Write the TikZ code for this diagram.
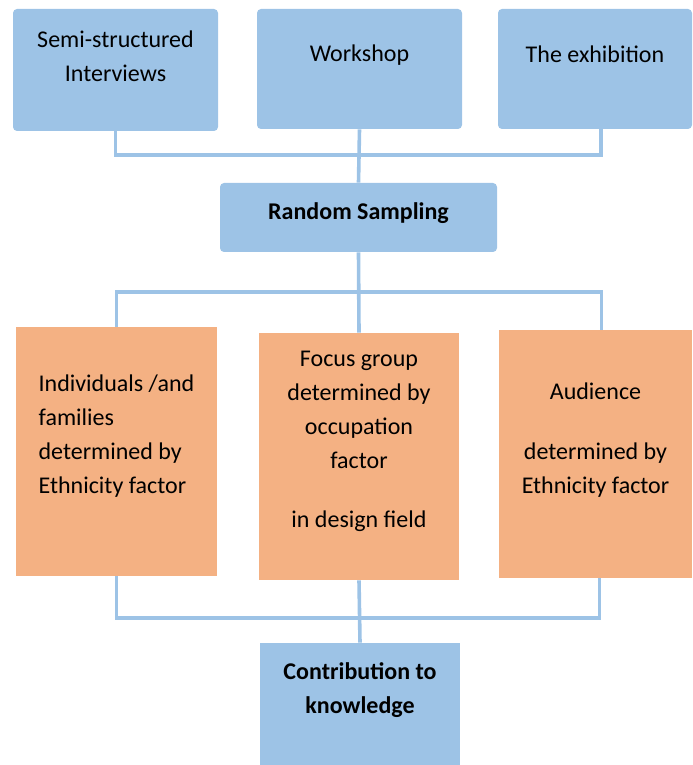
\documentclass[tikz,border=0pt]{standalone}
\usepackage{fontspec}
\setmainfont{Carlito}
\usetikzlibrary{positioning,calc}

\definecolor{boxblue}{HTML}{9DC3E6}
\definecolor{boxorange}{HTML}{F4B183}

\begin{document}
\begin{tikzpicture}[
  x=0.5pt, y=0.5pt,
  box/.style={rectangle, inner sep=0pt, fill=boxblue},
  obox/.style={rectangle, inner sep=0pt, fill=boxorange},
  txt/.style={align=center, font=\fontsize{12}{17}\selectfont, inner sep=0pt},
  link/.style={draw=boxblue, line width=1.8pt},
]
\useasboundingbox (0,0) rectangle (692,765);

% === DATA SOURCES ===
\node[box, rounded corners=2pt, minimum width=102.5pt, minimum height=61pt] (sem) at (115.5,695) {};
\node[box, rounded corners=2pt, minimum width=102.5pt, minimum height=60pt] (ws) at (359.5,696) {};
\node[box, rounded corners=2pt, minimum width=97pt, minimum height=60pt] (exh) at (595,696) {};

\node[txt] (semt) at ([yshift=7pt]sem.center) {Semi-structured\\Interviews};
\node[txt] (wst) at ([yshift=7pt]ws.center) {Workshop};
\node[txt] (exht) at ([yshift=7.5pt]exh.center) {The exhibition};

% === SAMPLING ===
\node[box, rounded corners=2pt, minimum width=138.5pt, minimum height=34.5pt] (rs) at (358.5,547.5) {};
\node[txt, font=\fontsize{12}{17}\selectfont\bfseries] (rst) at ([yshift=2pt]rs.center) {Random Sampling};

% === PARTICIPANT GROUPS ===
\node[obox, minimum width=100.5pt, minimum height=124.5pt] (ind) at (116.5,313.5) {};
\node[obox, minimum width=100pt, minimum height=123.5pt] (fg) at (359,308.5) {};
\node[obox, minimum width=96.5pt, minimum height=124pt] (aud) at (595.5,311) {};

\node[txt, align=left] (indt) at ([yshift=7.5pt]ind.center)
  {Individuals /and\\families\\determined by\\Ethnicity factor};
\node[txt] (fgt) at ([yshift=7.5pt]fg.center)
  {Focus group\\determined by\\occupation\\factor\\[12.5pt]in design field};
\node[txt] (audt) at ([yshift=7pt]aud.center)
  {Audience\\[13pt]determined by\\Ethnicity factor};

% === OUTCOME ===
\node[box, minimum width=100pt, minimum height=61pt] (con) at (360,61) {};
\node[txt, font=\fontsize{12}{17}\selectfont\bfseries] (cont) at ([yshift=7pt]con.center) {Contribution to\\knowledge};

% === CONNECTORS ===
\coordinate (bus1) at (359,610);
\coordinate (bus2) at (359,473);
\coordinate (bus3) at (359,147);

\draw[link] (sem.south) |- (bus1) -| ([xshift=3pt]exh.south);
\draw[link] (ws.south) -- (rs.north);
\draw[link] (rs.south) -- (fg.north);
\draw[link] (ind.north) |- (bus2) -| ([xshift=3pt]aud.north);
\draw[link] (ind.south) |- (bus3) -| ([xshift=2pt]aud.south);
\draw[link] (fg.south) -- (con.north);
\end{tikzpicture}
\end{document}
